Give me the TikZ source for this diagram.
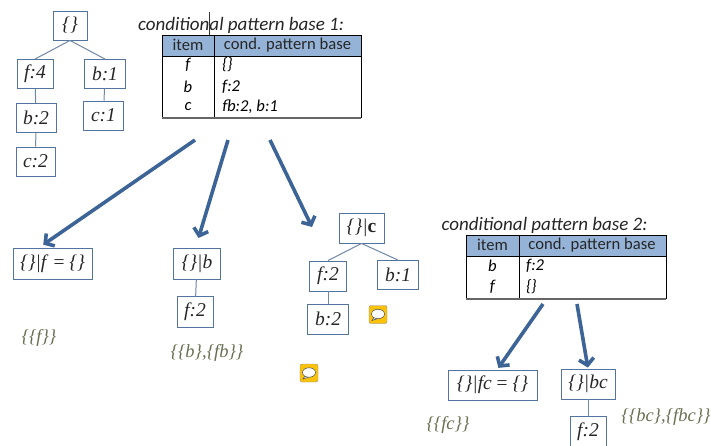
\documentclass[tikz,border=0pt]{standalone}
\usepackage{fontspec}
\setmainfont{Liberation Serif}
\setsansfont{Carlito}
\usepackage{tikz}
\usetikzlibrary{arrows.meta,positioning,shapes.geometric,calc}
\definecolor{boxblue}{RGB}{84,116,160}
\definecolor{linkblue}{RGB}{112,135,170}
\definecolor{arrowblue}{RGB}{61,100,150}
\definecolor{headblue}{RGB}{149,179,215}
\definecolor{setolive}{RGB}{104,112,82}
\definecolor{noteyellow}{RGB}{250,195,10}

\begin{document}
\begin{tikzpicture}[x=1pt,y=-1pt,
  every node/.style={inner sep=0pt},
  tbox/.style={draw=boxblue,fill=white,line width=.9pt,minimum height=29pt,minimum width=38pt,
               font=\fontsize{19.5}{22}\selectfont\itshape,text=black!85},
  link/.style={draw=linkblue,line width=1pt},
  ar/.style={-{Straight Barb[length=6.5pt,width=15pt,line width=3.6pt]},draw=arrowblue,line width=3.6pt},
  ttl/.style={font=\sffamily\fontsize{19}{22}\selectfont\itshape,text=black!85},
  hd/.style={font=\sffamily\fontsize{16.6}{19}\selectfont,text=black!85},
  cell/.style={font=\sffamily\fontsize{16.6}{19}\selectfont\itshape,text=black},
  sets/.style={font=\fontsize{18.5}{21}\selectfont\itshape,text=setolive},
  note/.style={draw=black!45,fill=noteyellow,rounded corners=2pt,minimum width=18pt,minimum height=18pt}]
\useasboundingbox (0,0) rectangle (711,446);
% first tree
\node[tbox,minimum width=34pt] (root) at (70,25.5) {\{\}};
\node[tbox,minimum width=36pt] (f4) at (35,74) {f:4};
\node[tbox,minimum width=41pt] (b1) at (105,74) {b:1};
\node[tbox,minimum width=40pt] (b2) at (36,118) {b:2};
\node[tbox,minimum width=40pt] (c1) at (103.5,115.5) {c:1};
\node[tbox,minimum width=39pt] (c2) at (35.5,161.5) {c:2};
\draw[link] (root.south) -- (f4.north);
\draw[link] (root.south) -- (b1.north);
\draw[link] (f4) -- (b2);
\draw[link] (b1) -- (c1);
\draw[link] (b2) -- (c2);
% table 1
\node[ttl] (title1) at (241,25) {conditional pattern base 1:};
\draw[black!80,line width=.7pt] (209.5,12) coordinate (caret1) -- (209.5,36) coordinate (caret2);
\node[draw=none,fill=headblue,minimum width=199pt,minimum height=21pt] (head1) at (261.5,45.5) {};
\node[hd] (item1) at (188,45) {item};
\node[hd] (cpb1) at (287.5,45) {cond. pattern base};
\foreach \nm/\y/\a/\b in {f/65/f/\{\},b/87/b/f:2,c/107/c/{fb:2, b:1}}{
  \node[cell] (k\nm) at (188,\y) {\a};
  \node[cell,anchor=west] (v\nm) at (222,\y) {\b};
}
\draw[black,line width=.9pt] (162,35) -- (361,35) (162,56) -- (361,56) (162,35) -- (162,118)
  (214,35) -- (214,118) (361,35) -- (361,118);
\draw[black!60,line width=1.4pt] (162,118) -- (361,118);
% big arrows of table 1
\coordinate (from1a) at (195,140);
\coordinate (from1b) at (228,140);
\coordinate (from1c) at (270,140);
\coordinate (to1c) at (312,227);
% conditional trees
\node[tbox,minimum width=79pt,minimum height=31pt] (fempty) at (52.5,263.5) {\{\}|f \textup{=} \{\}};
\node[tbox,minimum width=47pt,minimum height=31pt] (bcond) at (197,263.5) {\{\}|b};
\node[tbox,minimum width=36pt,minimum height=31pt] (bf2) at (195,312) {f:2};
\node[tbox,minimum width=45pt,minimum height=30pt] (ccond) at (361.5,228) {\{\}|\textup{\textbf{c}}};
\node[tbox,minimum width=37pt,minimum height=30pt] (cf2) at (328,276) {f:2};
\node[tbox,minimum width=41pt] (cb1) at (398,275) {b:1};
\node[tbox,minimum width=41pt,minimum height=30pt] (cb2) at (328,319) {b:2};
\draw[link] (bcond) -- (bf2);
\draw[link] (ccond.south) -- (cf2.north);
\draw[link] (ccond.south) -- (cb1.north);
\draw[link] (cf2) -- (cb2);
\draw[ar,shorten >=5pt] (from1a) -- (fempty.130);
\draw[ar,shorten >=10pt] (from1b) -- (bcond.95);
\draw[ar] (from1c) -- (to1c);
\node[sets] (setf) at (39,338) {\{\{f\}\}};
\node[sets] (setb) at (207,353) {\{\{b\},\{fb\}\}};
% comment icons
\foreach \nm/\px/\py in {noteA/378/314.5,noteB/309/373}{
  \node[note] (\nm) at (\px,\py) {};
  \fill[white,draw=black!70,line width=.5pt] (\px-4,\py+3) -- (\px-6,\py+6) -- (\px,\py+4) -- cycle;
  \node[ellipse,fill=white,draw=black!70,line width=.5pt,minimum width=13pt,minimum height=9.5pt] (\nm b) at (\px,\py-.5) {};
}
% table 2
\node[ttl] (title2) at (544.5,225) {conditional pattern base 2:};
\node[fill=headblue,minimum width=200pt,minimum height=21pt] (head2) at (566,245.5) {};
\node[hd] (item2) at (492.5,245) {item};
\node[hd] (cpb2) at (592,245) {cond. pattern base};
\foreach \nm/\y/\a/\b in {p/266/b/f:2,q/287/f/\{\}}{
  \node[cell] (k\nm) at (492.5,\y) {\a};
  \node[cell,anchor=west] (v\nm) at (526,\y) {\b};
}
\draw[black,line width=.9pt] (466,235) -- (666,235) (466,256) -- (666,256) (466,235) -- (466,299)
  (519,235) -- (519,299) (666,235) -- (666,299);
\draw[black!60,line width=1.4pt] (466,299) -- (666,299);
\coordinate (from2a) at (543,304);
\coordinate (from2b) at (577,304);
\node[tbox,minimum width=89pt,minimum height=30pt] (fcempty) at (492.5,385) {\{\}|fc \textup{=} \{\}};
\node[tbox,minimum width=54pt,minimum height=30pt] (bccond) at (588,384) {\{\}|bc};
\node[tbox,minimum width=36pt,minimum height=31pt] (bcf2) at (588,431.5) {f:2};
\draw[link] (bccond) -- (bcf2);
\draw[ar,shorten >=2pt] (from2a) -- (fcempty.73);
\draw[ar,shorten >=1pt] (from2b) -- (bccond.north);
\node[sets] (setfc) at (448,425) {\{\{fc\}\}};
\node[sets] (setbc) at (666,417) {\{\{bc\},\{fbc\}\}};
\end{tikzpicture}
\end{document}
